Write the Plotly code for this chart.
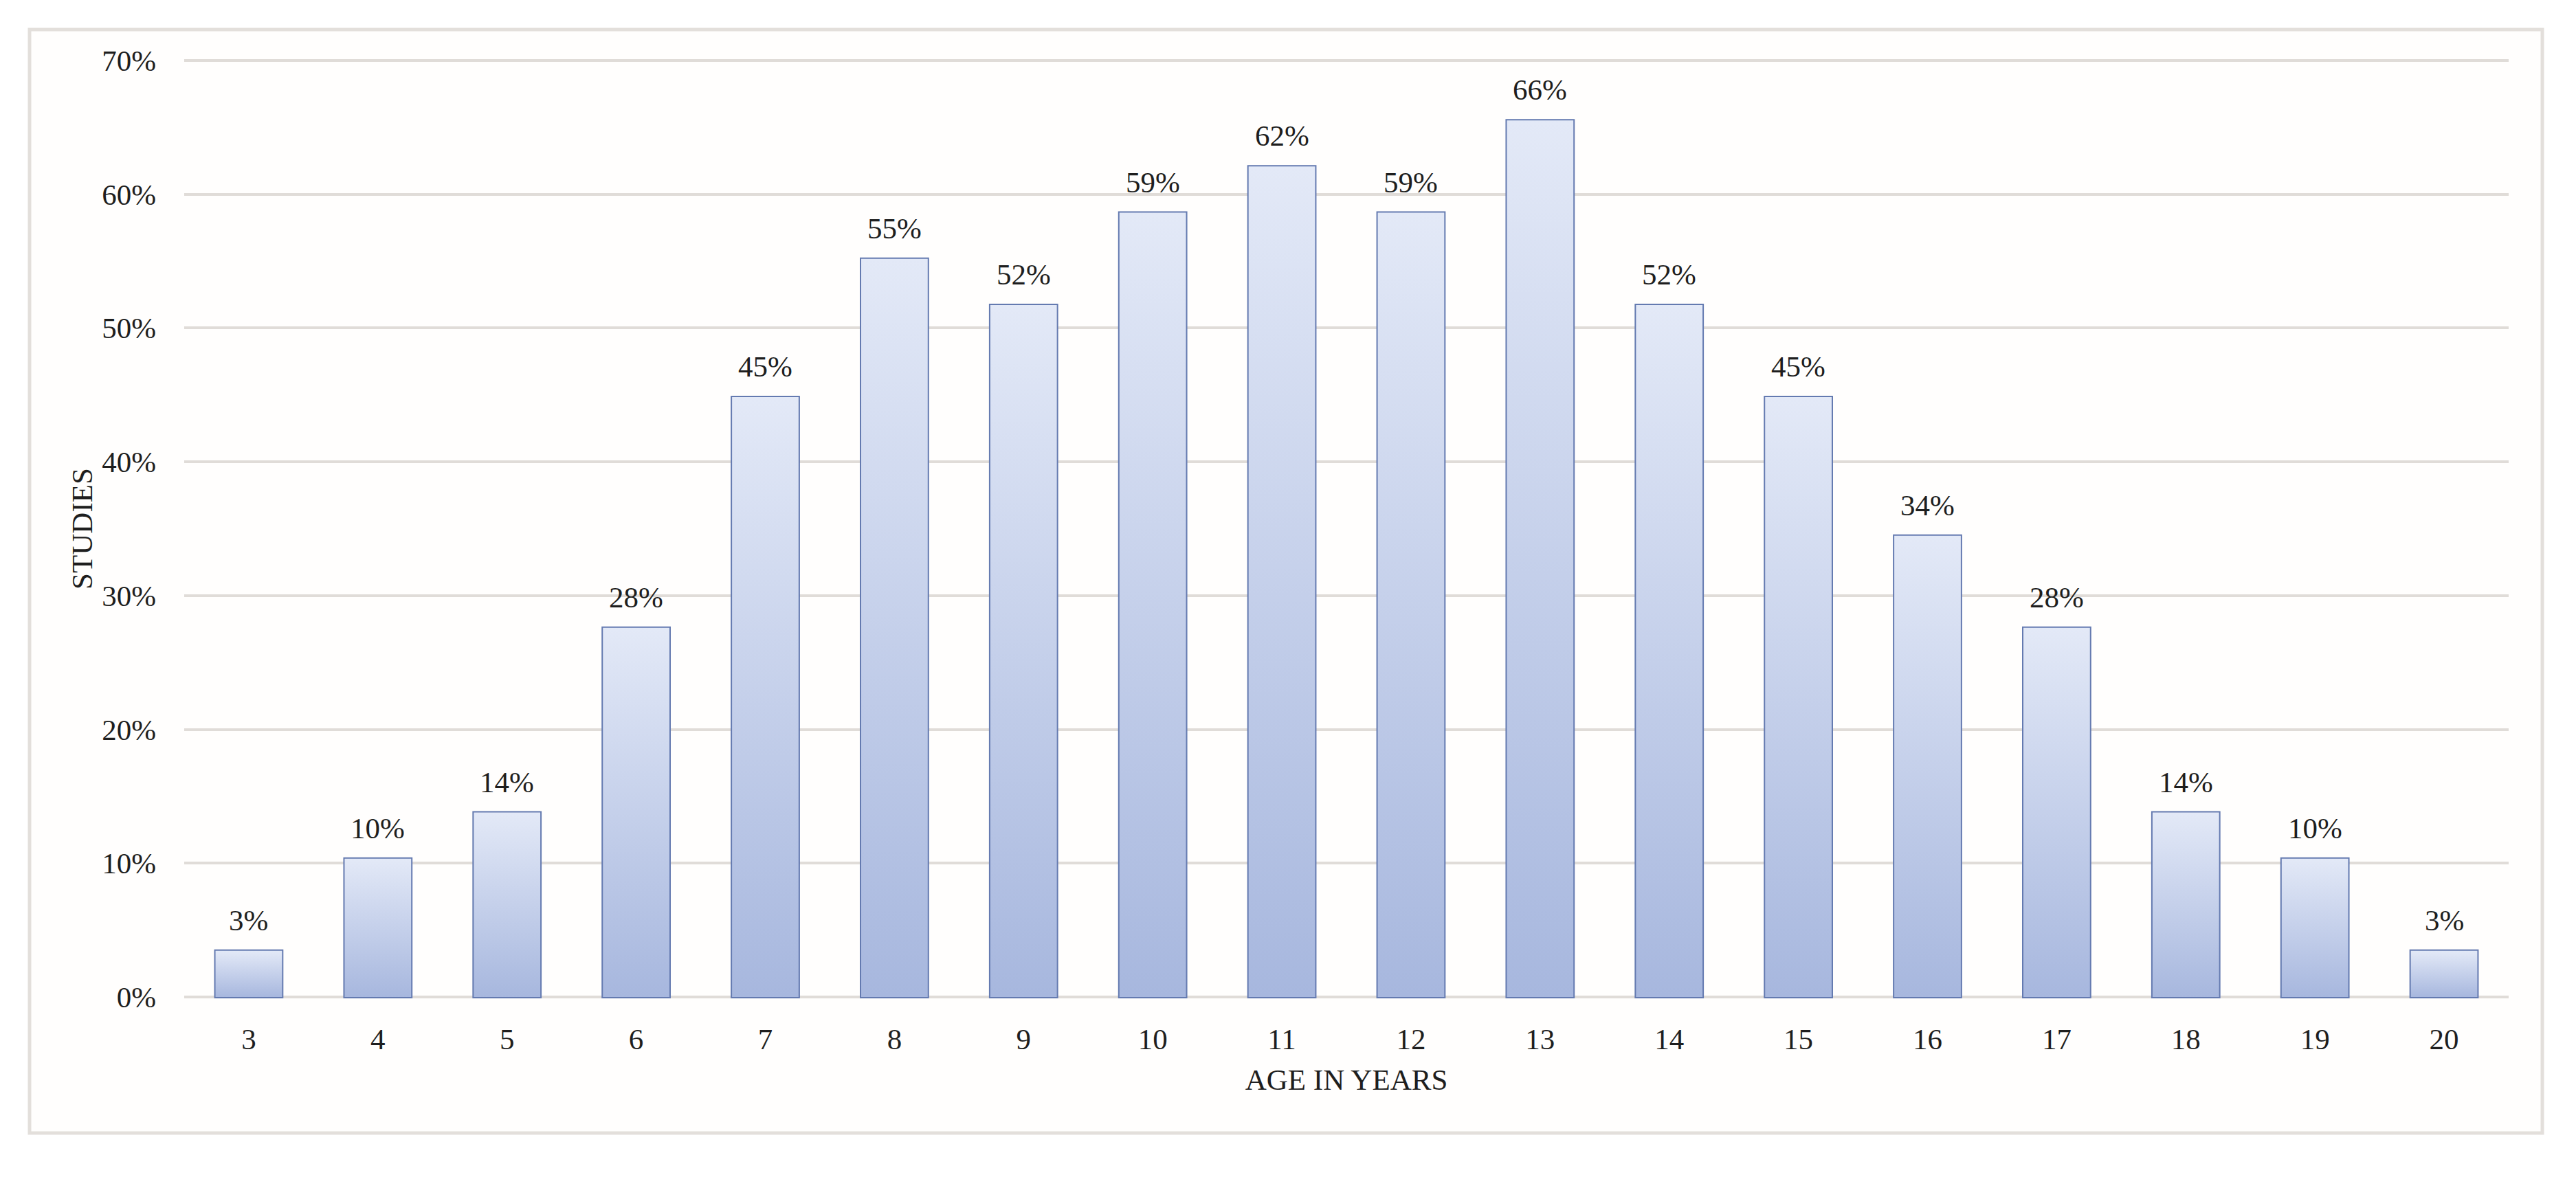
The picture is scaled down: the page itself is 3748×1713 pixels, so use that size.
import plotly.graph_objects as go

# ---- data ----
ages = [3, 4, 5, 6, 7, 8, 9, 10, 11, 12, 13, 14, 15, 16, 17, 18, 19, 20]
studies_pct = [3.45, 10.34, 13.79, 27.59, 44.83, 55.17, 51.72, 58.62, 62.07,
               58.62, 65.52, 51.72, 44.83, 34.48, 27.59, 13.79, 10.34, 3.45]
y_ticks = [0, 10, 20, 30, 40, 50, 60, 70]
y_tick_text = ["0%", "10%", "20%", "30%", "40%", "50%", "60%", "70%"]
x_title = "AGE IN YEARS"
y_title = "STUDIES"

# ---- style / layout (page pixels, corrected for the 8px body margin) ----
OFF = 8
W, H = 3748 - 2 * OFF, 1713 - 2 * OFF
ML, MR, MT, MB = 260, 90, 78, 252
PW, PH = W - ML - MR, H - MT - MB
BAR_W = 0.515
FONT = "Palatino Linotype, Book Antiqua, Palatino, Liberation Serif, serif"
FS = 43
TXT = "#1e1e1e"
GRID = "#e0dcd8"
EDGE = "#647ab0"
GRAD = [[0, "#a7b7de"], [1, "#e3e9f7"]]


def px_x(page_x):
    return (page_x - OFF - ML) / PW


def px_y(page_y):
    return (H - MB - (page_y - OFF)) / PH


fig = go.Figure()

# gradient fills (one per bar, derived from the data)
for a, v in zip(ages, studies_pct):
    x0, x1 = a - BAR_W / 2, a + BAR_W / 2
    fig.add_trace(go.Scatter(
        x=[x0, x1, x1, x0, x0], y=[0, 0, v, v, 0],
        mode="lines", fill="toself", line=dict(width=0),
        fillgradient=dict(type="vertical", colorscale=GRAD),
        hoverinfo="skip", showlegend=False))

# bar outlines
fig.add_trace(go.Bar(
    x=ages, y=studies_pct, width=BAR_W,
    marker=dict(color="rgba(0,0,0,0)", line=dict(color=EDGE, width=4)),
    showlegend=False, hovertemplate="%{x}: %{y:.0f}%<extra></extra>"))

# value labels
for a, v in zip(ages, studies_pct):
    fig.add_annotation(x=a, y=v, text=f"{round(v)}%", showarrow=False,
                       yanchor="bottom", yshift=19,
                       font=dict(family=FONT, size=FS, color=TXT))

# outer frame
fig.add_shape(type="rect", xref="paper", yref="paper", layer="below",
              x0=px_x(43), x1=px_x(3699), y0=px_y(1649), y1=px_y(43),
              line=dict(color="#e3dfdb", width=5), fillcolor="#fffefd")

fig.update_layout(
    width=W, height=H,
    margin=dict(l=ML, r=MR, t=MT, b=MB, pad=0),
    paper_bgcolor="white", plot_bgcolor="rgba(0,0,0,0)",
    font=dict(family=FONT, size=FS, color=TXT),
    showlegend=False,
    xaxis=dict(range=[ages[0] - 0.5, ages[-1] + 0.5], tickvals=ages,
               ticks="", showgrid=False, zeroline=False, showline=False,
               ticklabelstandoff=30,
               title=dict(text=x_title, standoff=20, font=dict(size=FS))),
    yaxis=dict(range=[-0.1, 70.1], tickvals=y_ticks, ticktext=y_tick_text,
               ticks="", showgrid=True, gridcolor=GRID, gridwidth=3.5,
               zeroline=False, showline=False, ticklabelstandoff=40,
               title=dict(text=y_title, standoff=0, font=dict(size=FS))),
)

fig.write_html("out.html")
